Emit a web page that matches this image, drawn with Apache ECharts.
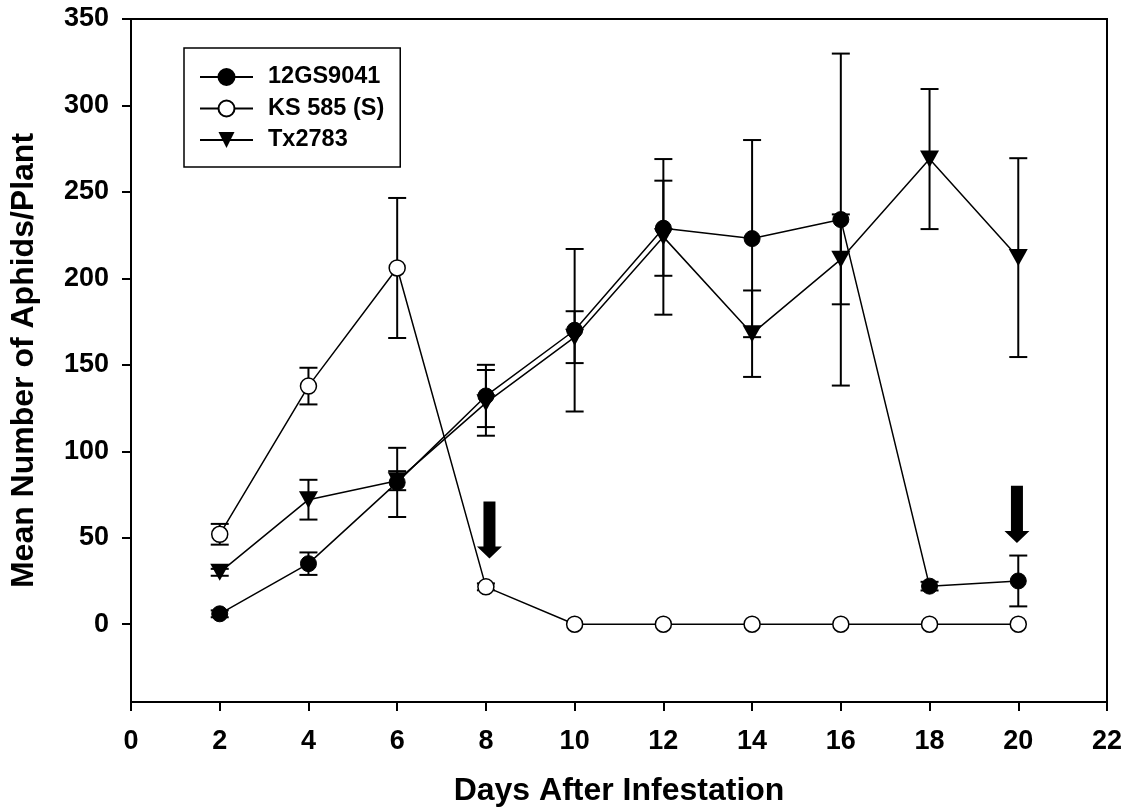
<!DOCTYPE html>
<html><head><meta charset="utf-8">
<script src="https://cdn.jsdelivr.net/npm/echarts@6/dist/echarts.min.js"></script>
<style>html,body{margin:0;padding:0;background:#fff}#c{width:1128px;height:812px}</style>
</head><body><div id="c"></div>
<script>
const days = [2, 4, 6, 8, 10, 12, 14, 16, 18, 20];
const gsMean = [6, 35, 82, 132, 170, 229, 223, 234, 22, 25];
const gsErr = [2, 6.5, 20, 18, 47, 27.5, 57, 96, 2.5, 14.7];
const ksMean = [52, 137.7, 206, 21.6, 0, 0, 0, 0, 0, 0];
const ksErr = [6, 10.6, 40.5, 2, 0, 0, 0, 0, 0, 0];
const txMean = [30, 72, 83, 128, 166, 224, 168, 211, 269, 212];
const txErr = [2, 11.5, 5.5, 19, 15, 45, 25, 26, 40.5, 57.5];
const yTicks = [0, 50, 100, 150, 200, 250, 300, 350];
const arrowX = [8.08, 19.97];
const arrowTop = [71, 80];
const arrowTip = [38, 47];
const seriesNames = ['12GS9041', 'KS 585 (S)', 'Tx2783'];

const FONT = '"Liberation Sans", Arial, sans-serif';
const TRI = 'path://M0,0L20,0L10,18Z';

function errData(mean, err) {
  const out = [];
  days.forEach((d, i) => { if (err[i] > 0) out.push([d, mean[i] - err[i], mean[i] + err[i]]); });
  return out;
}
function errSeries(mean, err) {
  return {
    type: 'custom', silent: true, z: 1,
    encode: { x: 0, y: [1, 2] },
    data: errData(mean, err),
    renderItem(params, api) {
      const x = api.value(0), lo = api.value(1), hi = api.value(2);
      const p1 = api.coord([x, hi]), p2 = api.coord([x, lo]);
      const w = 9, st = { stroke: '#000', lineWidth: 2 };
      return { type: 'group', children: [
        { type: 'line', shape: { x1: p1[0], y1: p1[1], x2: p2[0], y2: p2[1] }, style: st },
        { type: 'line', shape: { x1: p1[0] - w, y1: p1[1], x2: p1[0] + w, y2: p1[1] }, style: st },
        { type: 'line', shape: { x1: p2[0] - w, y1: p2[1], x2: p2[0] + w, y2: p2[1] }, style: st }
      ] };
    }
  };
}

const chart = echarts.init(document.getElementById('c'));
chart.setOption({
  animation: false,
  backgroundColor: '#fff',
  grid: { left: 130.5, right: 21, top: 19, bottom: 110, show: true, borderColor: '#000', borderWidth: 2, backgroundColor: 'transparent' },
  legend: {
    data: seriesNames, orient: 'vertical', left: 184, top: 48,
    itemWidth: 53, itemHeight: 20, itemGap: 7.5,
    padding: [17, 16, 15, 15],
    borderColor: '#000', borderWidth: 1.5, backgroundColor: '#fff',
    textStyle: { fontFamily: FONT, fontWeight: 'bold', fontSize: 23.5, color: '#000', padding: [0, 0, 0, 10] }
  },
  xAxis: {
    type: 'value', min: 0, max: 22, interval: 2,
    name: 'Days After Infestation', nameLocation: 'middle', nameGap: 73,
    nameTextStyle: { fontFamily: FONT, fontWeight: 'bold', fontSize: 32, color: '#000' },
    axisLine: { show: true, onZero: false, lineStyle: { color: '#000', width: 2 } },
    axisTick: { show: true, inside: false, length: 9, lineStyle: { color: '#000', width: 2 } },
    axisLabel: { fontFamily: FONT, fontWeight: 'bold', fontSize: 27, color: '#000', margin: 26 },
    splitLine: { show: false }
  },
  yAxis: {
    type: 'value', min: -45, max: 350,
    name: 'Mean Number of Aphids/Plant', nameLocation: 'middle', nameGap: 91,
    nameTextStyle: { fontFamily: FONT, fontWeight: 'bold', fontSize: 32, color: '#000' },
    axisLine: { show: true, onZero: false, lineStyle: { color: '#000', width: 2 } },
    axisTick: { show: true, inside: false, length: 9, customValues: yTicks, lineStyle: { color: '#000', width: 2 } },
    axisLabel: { fontFamily: FONT, fontWeight: 'bold', fontSize: 27, color: '#000', margin: 22, customValues: yTicks },
    splitLine: { show: false }
  },
  series: [
    errSeries(gsMean, gsErr),
    errSeries(ksMean, ksErr),
    errSeries(txMean, txErr),
    {
      name: seriesNames[0], type: 'line', z: 3,
      data: days.map((d, i) => [d, gsMean[i]]),
      symbol: 'circle', symbolSize: 16,
      lineStyle: { color: '#000', width: 1.5 },
      itemStyle: { color: '#000', borderColor: '#000', borderWidth: 1 }
    },
    {
      name: seriesNames[1], type: 'line', z: 3,
      data: days.map((d, i) => [d, ksMean[i]]),
      symbol: 'circle', symbolSize: 16,
      lineStyle: { color: '#000', width: 1.5 },
      itemStyle: { color: '#fff', borderColor: '#000', borderWidth: 1.5 }
    },
    {
      name: seriesNames[2], type: 'line', z: 3,
      data: days.map((d, i) => [d, txMean[i]]),
      symbol: TRI, symbolSize: [19, 17],
      lineStyle: { color: '#000', width: 1.5 },
      itemStyle: { color: '#000' }
    },
    {
      type: 'custom', silent: true, z: 4,
      encode: { x: 0, y: [1, 2] },
      data: arrowX.map((x, i) => [x, arrowTop[i], arrowTip[i]]),
      renderItem(params, api) {
        const x = api.value(0);
        const t = api.coord([x, api.value(1)]), b = api.coord([x, api.value(2)]);
        const cx = t[0], hs = 6, hh = 12.5, hl = 12;
        return {
          type: 'polygon',
          shape: { points: [[cx - hs, t[1]], [cx + hs, t[1]], [cx + hs, b[1] - hl], [cx + hh, b[1] - hl], [cx, b[1]], [cx - hh, b[1] - hl], [cx - hs, b[1] - hl]] },
          style: { fill: '#000' }
        };
      }
    }
  ]
});
</script></body></html>
